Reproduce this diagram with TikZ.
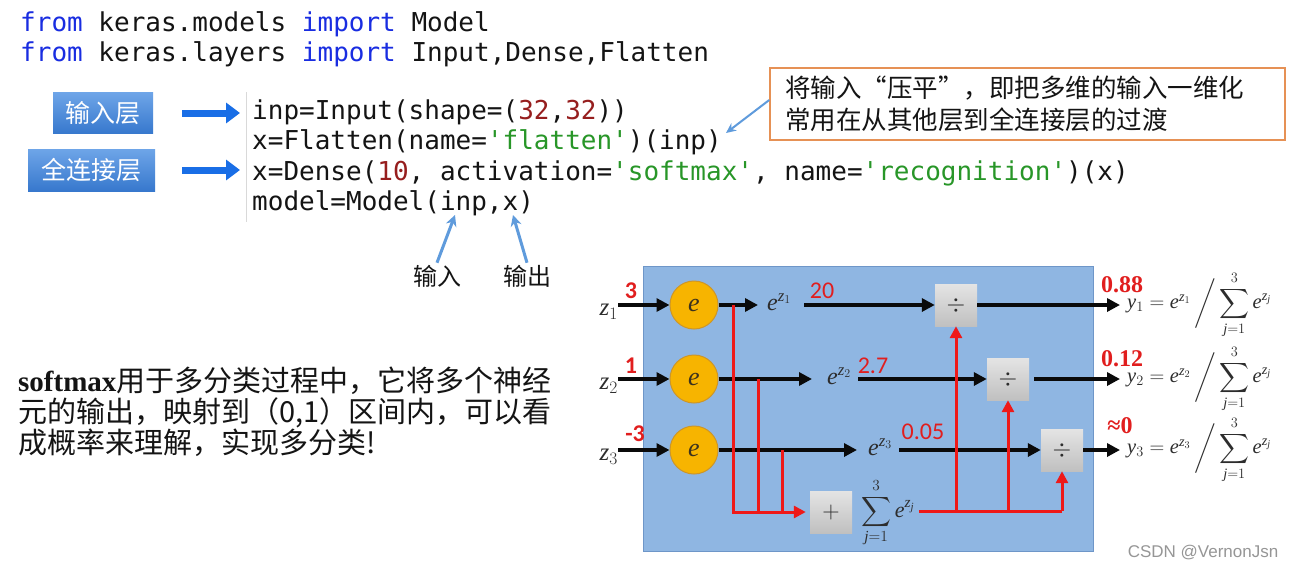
\RequirePackage{fix-cm}
\documentclass[tikz,border=0pt]{standalone}
\usepackage{amsmath}
\usepackage{exscale}
\usepackage{fontspec}
\setmonofont{DejaVu Sans Mono}
\newfontfamily\cjk{Noto Sans CJK SC}
\newfontfamily\tnr{Liberation Serif}[NFSSFamily=libser]
\newfontfamily\lsans{Liberation Sans}
\newfontfamily\carl{Carlito}
\DeclareSymbolFont{letters}{TU}{libser}{m}{it}
\DeclareSymbolFont{operators}{TU}{libser}{m}{n}
\usetikzlibrary{arrows.meta}
\definecolor{kwblue}{RGB}{25,45,225}
\definecolor{numred}{RGB}{150,30,30}
\definecolor{strgreen}{RGB}{40,150,40}
\definecolor{codeblk}{RGB}{20,20,20}
\definecolor{lblA}{RGB}{110,165,232}
\definecolor{lblB}{RGB}{55,120,205}
\definecolor{arrblue}{RGB}{25,110,230}
\definecolor{callblue}{RGB}{95,155,220}
\definecolor{boxorange}{RGB}{230,145,85}
\definecolor{panel}{RGB}{143,182,226}
\definecolor{panelb}{RGB}{110,150,200}
\definecolor{nodeor}{RGB}{247,180,0}
\definecolor{nodeorb}{RGB}{205,150,40}
\definecolor{etext}{RGB}{60,50,30}
\definecolor{redl}{RGB}{238,25,25}
\definecolor{redt}{RGB}{225,30,30}
\definecolor{darkg}{RGB}{45,45,45}
\definecolor{blackc}{RGB}{10,10,10}
\definecolor{opA}{RGB}{228,228,228}
\definecolor{opB}{RGB}{192,192,192}
\definecolor{wmc}{RGB}{150,150,150}
\newcommand\cKw[1]{\textcolor{kwblue}{#1}}
\newcommand\cNum[1]{\textcolor{numred}{#1}}
\newcommand\cStr[1]{\textcolor{strgreen}{#1}}
\tikzset{
 code/.style={anchor=base west, inner sep=0, font=\ttfamily\fontsize{26}{30}\selectfont, text=codeblk},
 lblbox/.style={top color=lblA, bottom color=lblB, text=white, font=\cjk\fontsize{25}{25}\selectfont, inner sep=0},
 bluearr/.style={draw=arrblue, line width=7pt, -{Triangle[length=14pt,width=20pt]}},
 callarr/.style={draw=callblue, line width=2pt, -{Stealth[length=10pt,width=9pt]}},
 uparr/.style={draw=callblue, line width=3pt, -{Stealth[length=11pt,width=11pt]}},
 enode/.style={circle, minimum size=48pt, inner sep=0, fill=nodeor, draw=nodeorb, line width=1pt, font=\fontsize{26}{26}\selectfont, text=etext},
 zlab/.style={inner sep=0, font=\fontsize{25}{25}\selectfont, text=darkg},
 ezlab/.style={inner sep=0, anchor=west, font=\fontsize{24}{24}\selectfont, text=darkg},
 rnum/.style={inner sep=0, font=\carl\fontsize{24}{24}\selectfont, text=redt},
 opbox/.style={minimum size=42pt, inner sep=0, top color=opA, bottom color=opB, font=\fontsize{24}{24}\selectfont, text=darkg},
 blk/.style={draw=blackc, line width=3.5pt, -{Triangle[length=13pt,width=13pt]}},
 rln/.style={draw=redl, line width=3pt},
 rarr/.style={rln, -{Triangle[length=12pt,width=12pt]}},
 rout/.style={inner sep=0, font=\tnr\bfseries\fontsize{24}{24}\selectfont, text=redt},
 formula/.style={anchor=west, inner sep=0, font=\fontsize{20.5}{20.5}\selectfont, text=darkg},
 cjkt/.style={anchor=base west, inner sep=0, font=\cjk\fontsize{29}{31}\selectfont, text=codeblk},
}
\begin{document}
\begin{tikzpicture}[x=1pt,y=-1pt]
\useasboundingbox[fill=white] (0,0) rectangle (1298,570);
% code
\node[code] (l1) at (20,31) {\cKw{from} keras.models \cKw{import} Model};
\node[code] (l2) at (20,61) {\cKw{from} keras.layers \cKw{import} Input,Dense,Flatten};
\draw[gray!30, line width=1pt] (246,92) -- (246,222);
\node[code] (l3) at (252,119) {inp=Input(shape=(\cNum{32},\cNum{32}))};
\node[code] (l4) at (252,149) {x=Flatten(name=\cStr{'flatten'})(inp)};
\node[code] (l5) at (252,180) {x=Dense(\cNum{10}, activation=\cStr{'softmax'}, name=\cStr{'recognition'})(x)};
\node[code] (l6) at (252,210) {model=Model(inp,x)};
% labels
\node[lblbox, minimum width=100pt, minimum height=41pt] (inl) at (103,113) {输入层};
\node[lblbox, minimum width=127pt, minimum height=42pt] (fcl) at (91.5,170) {全连接层};
\draw[bluearr, shorten <=29pt, shorten >=12pt] (inl.east) -- (inl.east -| l3.west);
\draw[bluearr, shorten <=27pt, shorten >=12pt] (fcl.east) -- (fcl.east -| l5.west);
% note
\node[draw=boxorange, line width=1.5pt, fill=white, text width=485pt, inner xsep=15pt, minimum height=72pt, align=left, font=\cjk\fontsize{25.5}{32}\selectfont, text=codeblk] (note) at (1027.5,104)
 {将输入\makebox[1em][r]{“}压平\makebox[1em][l]{”}，即把多维的输入一维化\\常用在从其他层到全连接层的过渡};
\coordinate (ctip) at (726,133);
\draw[callarr] ([yshift=4pt]note.west) -- (ctip);
% in/out
\node[inner sep=2pt, font=\cjk\fontsize{24}{24}\selectfont, text=codeblk] (inlab) at (437,276) {输入};
\node[inner sep=2pt, font=\cjk\fontsize{24}{24}\selectfont, text=codeblk] (outlab) at (527,276) {输出};
\coordinate (inptip) at (455,215);
\coordinate (xtip) at (513,215);
\draw[uparr] (inlab.north) -- (inptip);
\draw[uparr] (outlab.north) -- (xtip);
% softmax text
\node[cjkt] (sm1) at (18,391) {{\tnr\bfseries softmax}用于多分类过程中，它将多个神经};
\node[cjkt] (sm2) at (18,422) {元的输出，映射到（0,1）区间内，可以看};
\node[cjkt] (sm3) at (18,453) {成概率来理解，实现多分类!};
% panel
\node[draw=panelb, fill=panel, line width=0.8pt, minimum width=450pt, minimum height=285pt, inner sep=0] (pan) at (868,408.5) {};
% circles
\node[enode] (c1) at (694,305) {$e$};
\node[enode] (c2) at (694,379) {$e$};
\node[enode] (c3) at (694,450) {$e$};
\node[zlab, anchor=east] (z1) at (618,312) {$z_1$};
\node[zlab, anchor=east] (z2) at (618,386) {$z_2$};
\node[zlab, anchor=east] (z3) at (618,457) {$z_3$};
\draw[blk] (z1.east |- c1) -- (c1.west);
\draw[blk] (z2.east |- c2) -- (c2.west);
\draw[blk] (z3.east |- c3) -- (c3.west);
\node[rnum] (n1) at (631,291) {\bfseries 3};
\node[rnum] (n2) at (631,366) {\bfseries 1};
\node[rnum] (n3) at (635,434) {\bfseries -3};
% operators
\node[opbox] (d1) at (956,305) {$\div$};
\node[opbox] (d2) at (1008,379) {$\div$};
\node[opbox] (d3) at (1062,450) {$\div$};
\node[opbox] (plus) at (831,512) {$+$};
\node[formula, font=\fontsize{22}{22}\selectfont] (sum) at (861,513) {$\displaystyle\sum_{j=1}^{3} e^{z_j}$};
% e^z labels
\node[ezlab] (ez1) at (767,302) {$e^{z_1}$};
\node[ezlab] (ez2) at (827,376) {$e^{z_2}$};
\node[ezlab] (ez3) at (868,447) {$e^{z_3}$};
\draw[blk, shorten >=9pt] (c1.east) -- (c1.east -| ez1.west);
\draw[blk, shorten >=15pt] (c2.east) -- (c2.east -| ez2.west);
\draw[blk, shorten >=11pt] (c3.east) -- (c3.east -| ez3.west);
\draw[blk, shorten <=13pt] (ez1.east |- d1.west) -- (d1.west);
\draw[blk, shorten <=7pt] (ez2.east |- d2.west) -- (d2.west);
\draw[blk, shorten <=7pt] (ez3.east |- d3.west) -- (d3.west);
\node[rnum] (v1) at (822,291) {20};
\node[rnum] (v2) at (873,366) {2.7};
\node[rnum] (v3) at (923,432) {0.05};
% red lines left
\coordinate (t1) at (733,305);
\coordinate (t2) at (758,379);
\coordinate (t3) at (782,450);
\draw[rarr, shorten >=4pt] (t1) -- (t1 |- plus.west) -- (plus.west);
\draw[rln] (t2) -- (t2 |- plus.west);
\draw[rln] (t3) -- (t3 |- plus.west);
% red lines right
\coordinate (bR) at (1062,511);
\draw[rln, shorten <=4pt] (sum.east |- bR) -- (bR);
\draw[rarr] (bR) -- (d3.south);
\draw[rarr] (d1.south |- bR) -- (d1.south);
\draw[rarr] (d2.south |- bR) -- (d2.south);
% outputs
\node[formula] (y1) at (1127,305) {$y_1 = e^{z_1}\,\bigg/\displaystyle\sum_{j=1}^{3} e^{z_j}$};
\node[formula] (y2) at (1127,379) {$y_2 = e^{z_2}\,\bigg/\displaystyle\sum_{j=1}^{3} e^{z_j}$};
\node[formula] (y3) at (1127,450) {$y_3 = e^{z_3}\,\bigg/\displaystyle\sum_{j=1}^{3} e^{z_j}$};
\draw[blk, shorten >=7pt] (d1.east) -- (d1.east -| y1.west);
\draw[blk, shorten <=5pt, shorten >=7pt] (d2.east) -- (d2.east -| y2.west);
\draw[blk, shorten >=7pt] (d3.east) -- (d3.east -| y3.west);
\node[rout] (o1) at (1122,285) {0.88};
\node[rout] (o2) at (1122,359) {0.12};
\node[rout] (o3) at (1120,426) {≈0};
\node[inner sep=0, font=\lsans\fontsize{17}{17}\selectfont, text=wmc] (wm) at (1203,553) {CSDN @VernonJsn};
\end{tikzpicture}
\end{document}
